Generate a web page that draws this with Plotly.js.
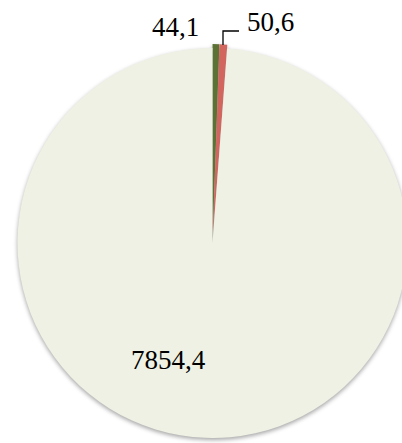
<!DOCTYPE html>
<html>
<head>
<meta charset="utf-8">
<script src="https://cdn.plot.ly/plotly-3.0.1.min.js"></script>
<style>
  html, body { margin: 0; padding: 0; overflow: hidden; background: #ffffff; }
  #chart { width: 420px; height: 443px; }
  /* soft outer shadow under the pie, as in the office chart style */
  #chart .pielayer { filter: drop-shadow(0px 2px 2px rgba(0,0,0,0.35)); }
</style>
</head>
<body>
<div id="chart"></div>
<script>
// Slice data, in drawing order (clockwise from 12 o'clock)
const categories = ["A", "B", "C"];
const values = [44.1, 50.6, 7854.4];
const colors = ["#5C7235", "#D2665E", "#EEF1E3"];
const pulls = [0.02, 0.02, 0];

// Value labels use a decimal comma
const fmt = v => v.toFixed(1).replace(".", ",");
const labelTexts = values.map(fmt);

const W = 420, H = 443;
const px = x => x / W;
const py = y => 1 - y / H;

const labelFont = { family: "Liberation Serif, Times New Roman, serif", size: 27, color: "#000000" };

const trace = {
  type: "pie",
  labels: categories,
  values: values,
  sort: false,
  direction: "clockwise",
  rotation: 0,
  pull: pulls,
  marker: { colors: colors, line: { width: 0 } },
  textinfo: "none",
  hoverinfo: "label+value",
  domain: { x: [px(13.6), px(411.4)], y: [py(441.9), py(44.1)] },
  showlegend: false
};

const layout = {
  width: W,
  height: H,
  margin: { l: 0, r: 0, t: 0, b: 0, pad: 0 },
  paper_bgcolor: "#ffffff",
  plot_bgcolor: "#ffffff",
  showlegend: false,
  annotations: [
    { text: labelTexts[0], xref: "paper", yref: "paper", x: px(201), y: py(27),
      xanchor: "right", yanchor: "middle", showarrow: false, font: labelFont },
    { text: labelTexts[1], xref: "paper", yref: "paper", x: px(245), y: py(21.5),
      xanchor: "left", yanchor: "middle", showarrow: false, font: labelFont },
    { text: labelTexts[2], xref: "paper", yref: "paper", x: px(129), y: py(360),
      xanchor: "left", yanchor: "middle", showarrow: false, font: labelFont }
  ],
  shapes: [
    // leader line from the second slice to its label
    { type: "path", xref: "paper", yref: "paper",
      path: "M " + px(223) + "," + py(45) + " L " + px(223) + "," + py(31) + " L " + px(239) + "," + py(31),
      line: { color: "#000000", width: 1.3 } }
  ]
};

Plotly.newPlot("chart", [trace], layout, { displayModeBar: false, staticPlot: true });
</script>
</body>
</html>
